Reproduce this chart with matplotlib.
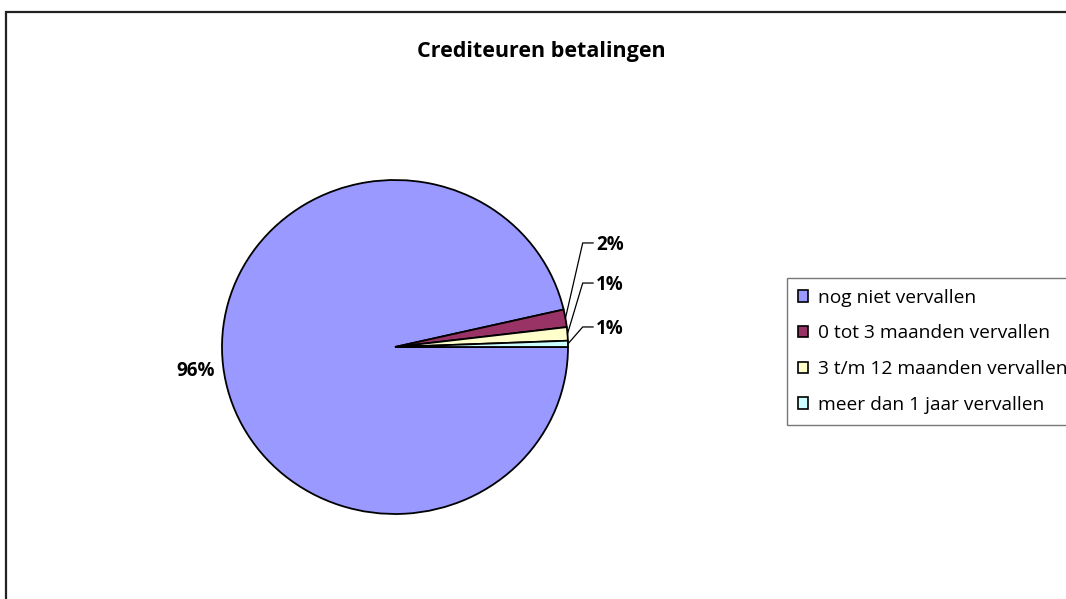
import numpy as np
import matplotlib
matplotlib.use("Agg")
from matplotlib import pyplot as plt
from matplotlib import patches

plt.rcParams.update({"font.family": ["Open Sans", "DejaVu Sans"]})

# ---------------------------------  data  --------------------------------- #

title = "Crediteuren betalingen"
categories = ["nog niet vervallen", "0 tot 3 maanden vervallen",
              "3 t/m 12 maanden vervallen", "meer dan 1 jaar vervallen"]
shares = [96.4, 1.7, 1.3, 0.6]
colors = ["#9999FF", "#993366", "#FFFFCC", "#CCFFFF"]

# label text positions (data coords of the pie axes), small slices use leader lines
label_y_small = [0.623, 0.383, 0.12]

# ---------------------------------  figure  -------------------------------- #

fig = plt.figure(figsize=(10.66, 5.99), dpi=100)

# outer chart frame (right and bottom edges fall outside the picture)
frame = patches.Rectangle((6 / 1066, -0.05), 1.1, 1 - 12 / 599 + 0.05,
                          transform=fig.transFigure, fill=False,
                          edgecolor="#222222", lw=1.6, clip_on=False)
fig.patches.append(frame)

# pie axes: 1 data unit = 173 px horizontally, 167 px vertically
ax = fig.add_axes([135.5 / 1066, 1 - 597.5 / 599, 519 / 1066, 501 / 599])
wedges, _ = ax.pie(shares, colors=colors, startangle=0, counterclock=False,
                   wedgeprops=dict(edgecolor="black", linewidth=1.3))
ax.set_aspect("auto")
ax.set_xlim(-1.5, 1.5)
ax.set_ylim(-1.5, 1.5)
ax.axis("off")

labels = ["%.0f%%" % s for s in shares]

# big slice label
w = wedges[0]
mid = np.deg2rad((w.theta1 + w.theta2) / 2)
ax.text(1.16 * np.cos(mid), 1.16 * np.sin(mid) - 0.01, labels[0],
        ha="center", va="center", fontsize=13.5, fontweight="bold")

# small slice labels with leader lines
for w, lab, ly in zip(wedges[1:], labels[1:], label_y_small):
    mid = np.deg2rad((w.theta1 + w.theta2) / 2)
    x0, y0 = np.cos(mid), np.sin(mid)
    ax.plot([x0, 1.085, 1.145], [y0, ly, ly], color="black", lw=0.9,
            clip_on=False)
    ax.text(1.163, ly - 0.012, lab, ha="left", va="center",
            fontsize=13.5, fontweight="bold")

fig.text(541 / 1066, 1 - 51 / 599, title, ha="center", va="center",
         fontsize=15.5, fontweight="bold")

leg = fig.legend(wedges, categories, loc="upper left",
                 bbox_to_anchor=(787 / 1066, 1 - 278 / 599),
                 fontsize=13.8, frameon=True, fancybox=False,
                 handlelength=0.55, handleheight=0.55, handletextpad=0.5,
                 labelspacing=0.93, borderpad=0.55, borderaxespad=0)
leg.get_frame().set_edgecolor("#555555")
leg.get_frame().set_linewidth(1.0)
for h in leg.legend_handles:
    h.set_edgecolor("black")
    h.set_linewidth(1.2)

fig.savefig("out.png", dpi=100)
